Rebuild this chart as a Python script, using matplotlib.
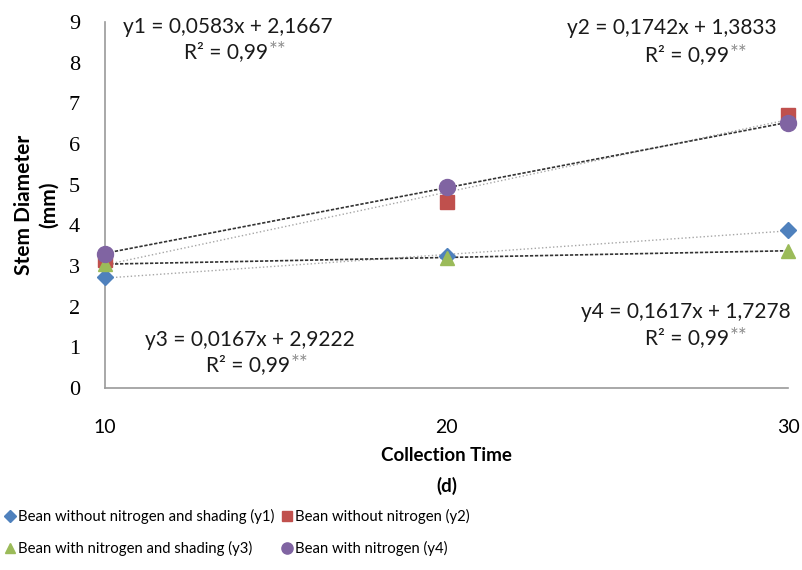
import numpy as np
import matplotlib.pyplot as plt

# data
days = [10, 20, 30]
y1_vals = [2.72, 3.25, 3.88]   # without nitrogen and shading
y2_vals = [3.15, 4.57, 6.72]   # without nitrogen
y3_vals = [3.05, 3.20, 3.38]   # with nitrogen and shading
y4_vals = [3.30, 4.95, 6.52]   # with nitrogen

labels = ["Bean without nitrogen and shading (y1)", "Bean without nitrogen (y2)",
          "Bean with nitrogen and shading (y3)", "Bean with nitrogen (y4)"]
equations = ["y1 = 0,0583x + 2,1667", "y2 = 0,1742x + 1,3833",
             "y3 = 0,0167x + 2,9222", "y4 = 0,1617x + 1,7278"]

colors = ['#4F81BD', '#C0504D', '#9BBB59', '#8064A2']
markers = ['D', 's', '^', 'o']
msizes = [8.5, 10.5, 10.5, 11.5]
trend_styles = [(':', '#a6a6a6', 1.0), (':', '#a6a6a6', 1.0),
                ((0, (2, 1)), '#333333', 1.2), ((0, (2, 1)), '#333333', 1.2)]

plt.rcParams['font.family'] = ['Lato', 'DejaVu Sans']

fig = plt.figure(figsize=(8.02, 5.70), dpi=100)
ax = fig.add_axes([105/802, 1 - 388/570, 683/802, 366/570])

series = [y1_vals, y2_vals, y3_vals, y4_vals]
x = np.array(days)
# trend lines first
for vals, (ls, col, lw) in zip(series, trend_styles):
    k, b = np.polyfit(x, vals, 1)
    ax.plot(x, k*x + b, linestyle=ls, color=col, lw=lw, zorder=2)

handles = []
for vals, c, m, ms, lab in zip(series, colors, markers, msizes, labels):
    h, = ax.plot(days, vals, linestyle='none', marker=m, color=c,
                 markersize=ms, label=lab, clip_on=False, zorder=3)
    handles.append(h)

ax.set_xlim(10, 30)
ax.set_ylim(0, 9)
ax.set_xticks(days)
ax.set_yticks(range(10))
ax.tick_params(length=0)
ax.tick_params(axis='x', pad=22, labelsize=14)
ax.tick_params(axis='y', pad=18, labelsize=16)
for t in ax.get_yticklabels():
    t.set_fontfamily(['Liberation Serif'])
for s in ['top', 'right']:
    ax.spines[s].set_visible(False)
for s in ['left', 'bottom']:
    ax.spines[s].set_color('#9a9a9a')
    ax.spines[s].set_linewidth(1.2)

ax.set_xlabel("Collection Time\n(d)", fontsize=13.5, fontweight='bold', labelpad=8,
              linespacing=1.9)
ax.set_ylabel("Stem Diameter\n(mm)", fontsize=15, fontweight='bold', labelpad=7,
              linespacing=1.3)

# equation labels, positions in data coords
eq_pos = [(13.60, 8.88), (26.60, 8.85), (14.25, 1.18), (27.01, 1.87)]
r2_pos = [(13.55, 8.26), (27.05, 8.19), (14.20, 0.57), (27.05, 1.23)]
for eq, (ex, ey), (rx, ry) in zip(equations, eq_pos, r2_pos):
    ax.text(ex, ey, eq, ha='center', va='center', fontsize=15, color='#1a1a1a')
    r2 = ax.text(rx, ry, "R² = 0,99", ha='center', va='center', fontsize=15,
                 color='#1a1a1a')
    ax.annotate("**", xy=(1, 0.55), xycoords=r2, ha='left', va='center',
                fontsize=15, color='#8c8c8c')

# reorder so the legend reads row by row
order = [0, 2, 1, 3]
fig.legend(handles=[handles[i] for i in order], loc='lower left',
           bbox_to_anchor=(-0.005, 0.012), ncol=2, frameon=False,
           fontsize=10.7, handletextpad=0.1, columnspacing=0.4,
           handlelength=0.9, labelspacing=1.1, markerscale=0.7,
           borderaxespad=0.2, borderpad=0.3)

fig.savefig("out.png", dpi=100)
